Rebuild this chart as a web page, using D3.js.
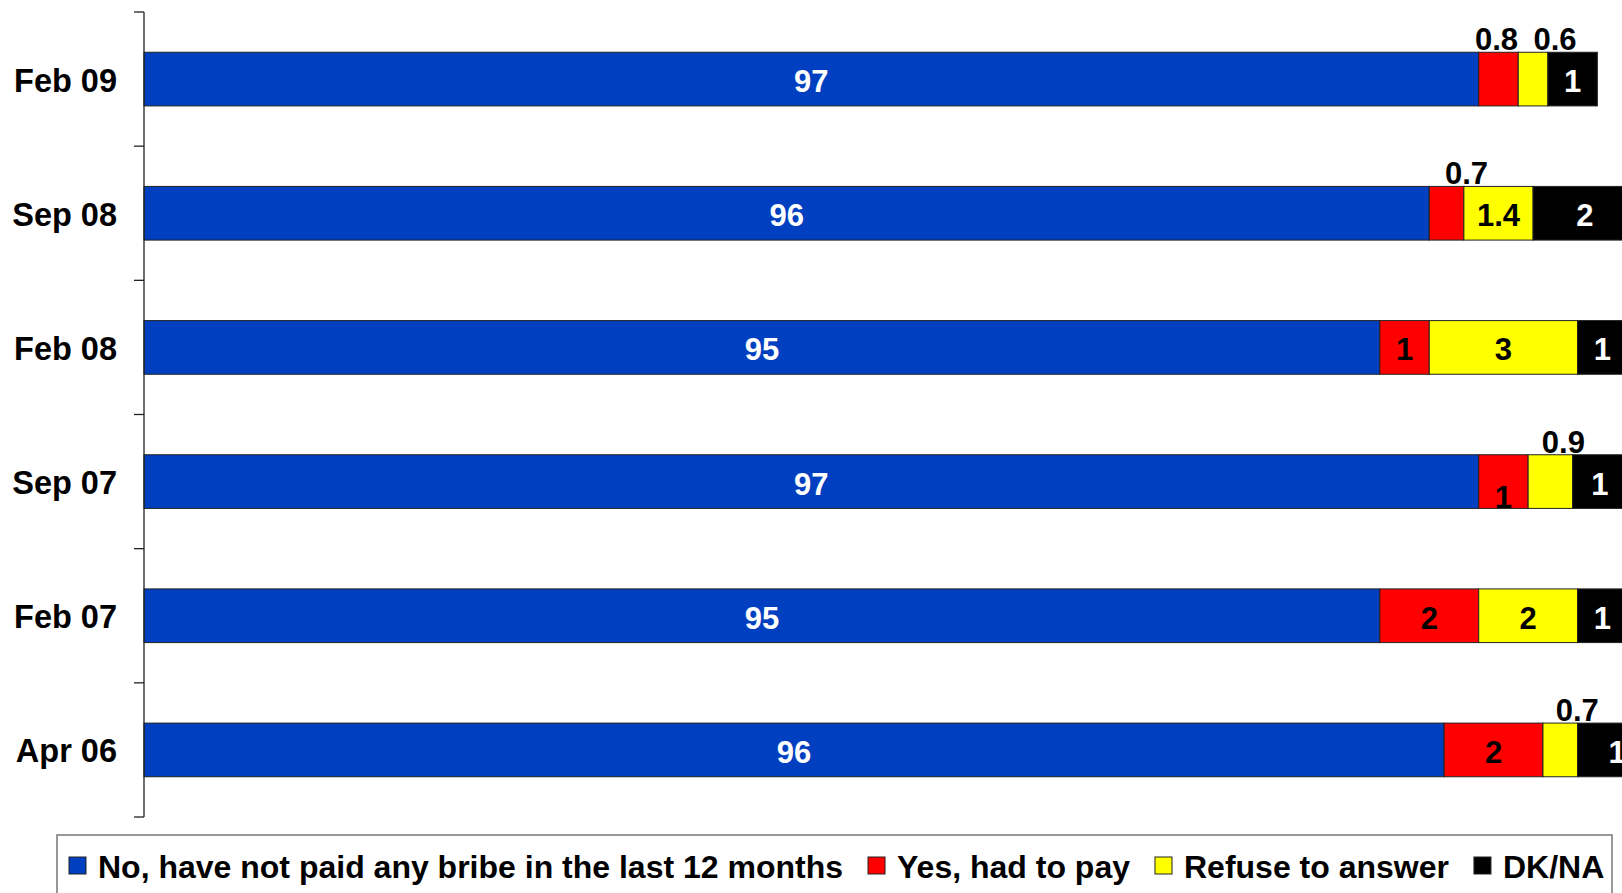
<!DOCTYPE html>
<html>
<head>
<meta charset="utf-8">
<script src="https://cdn.jsdelivr.net/npm/d3@7/dist/d3.min.js"></script>
<style>
  html, body { margin: 0; padding: 0; background: #fff; overflow: hidden; }
  svg { display: block; font-family: "Liberation Sans", Arial, sans-serif; font-weight: bold; }
</style>
</head>
<body>
<svg id="chart" width="1622" height="893"></svg>
<script>
// ---- Data ----
const categories = ["Feb 09", "Sep 08", "Feb 08", "Sep 07", "Feb 07", "Apr 06"];
const seriesNames = ["No, have not paid any bribe in the last 12 months", "Yes, had to pay", "Refuse to answer", "DK/NA"];
const noPaid  = [97, 96, 95, 97, 95, 96.3];
const yesPaid = [0.8, 0.7, 1, 1, 2, 2];
const refuse  = [0.6, 1.4, 3, 0.9, 2, 0.7];
const dkna    = [1, 2.1, 1, 1.1, 1, 1.6];
const noPaidLabels  = ["97", "96", "95", "97", "95", "96"];
const yesPaidLabels = ["0.8", "0.7", "1", "1", "2", "2"];
const refuseLabels  = ["0.6", "1.4", "3", "0.9", "2", "0.7"];
const dknaLabels    = ["1", "2", "1", "1", "1", "1"];
const xDomain = [70, 100];

// ---- Styles ----
const colors = ["#0040C0", "#FF0000", "#FFFF00", "#000000"];
const labelColors = ["#FFFFFF", "#000000", "#000000", "#FFFFFF"];

const seriesValues = [noPaid, yesPaid, refuse, dkna];
const seriesLabels = [noPaidLabels, yesPaidLabels, refuseLabels, dknaLabels];

// small label placement tweaks (as in the original) keyed "category|seriesIndex"
const labelNudge = {
  "Feb 09|1": {dx: -2, dy: 0},
  "Feb 09|2": {dx: 22, dy: 0},
  "Sep 08|1": {dx: 20, dy: 0},
  "Sep 07|2": {dx: 13, dy: 0},
  "Apr 06|2": {dx: 17, dy: 0},
  "Sep 07|1": {dx: 0, dy: 13}
};

const svg = d3.select("#chart");
const plotLeft = 144, plotRight = 1627, plotTop = 12, plotBottom = 817;

const x = d3.scaleLinear().domain(xDomain).range([plotLeft, plotRight]);
const y = d3.scaleBand().domain(categories).range([plotTop, plotBottom]).paddingInner(0.6).paddingOuter(0.3);
const yOuter = d3.scaleBand().domain(categories).range([plotTop, plotBottom]);

// Build stacked rows
const rows = categories.map((c, i) => {
  let acc = xDomain[0];
  return seriesValues.map((vals, s) => {
    const v = vals[i];
    let start, end;
    if (s === 0) { start = xDomain[0]; end = v; acc = v; }
    else { start = acc; end = acc + v; acc = end; }
    return {cat: c, s, v, x0: start, x1: end, label: seriesLabels[s][i]};
  });
}).flat();

// Bars
svg.append("g").selectAll("rect").data(rows).join("rect")
  .attr("x", d => x(d.x0))
  .attr("y", d => y(d.cat))
  .attr("width", d => x(d.x1) - x(d.x0))
  .attr("height", y.bandwidth())
  .attr("fill", d => colors[d.s])
  .attr("stroke", "#222")
  .attr("stroke-width", 1);

// Axis (left), ticks at category boundaries
const axisG = svg.append("g").attr("transform", `translate(${plotLeft},0)`);
axisG.append("line").attr("x1", 0).attr("x2", 0).attr("y1", plotTop).attr("y2", plotBottom)
  .attr("stroke", "#222").attr("stroke-width", 1.3);
const boundaries = categories.map(c => yOuter(c)).concat([plotBottom]);
axisG.selectAll("line.tick").data(boundaries).join("line").attr("class", "tick")
  .attr("x1", -10).attr("x2", 0).attr("y1", d => d).attr("y2", d => d)
  .attr("stroke", "#222").attr("stroke-width", 1.3);

// Category labels
svg.append("g").selectAll("text").data(categories).join("text")
  .attr("x", 117)
  .attr("y", d => y(d) + y.bandwidth() / 2 + 12.5)
  .attr("text-anchor", "end")
  .attr("font-size", 32.5)
  .attr("fill", "#000")
  .text(d => d);

// Value labels
svg.append("g").selectAll("text").data(rows).join("text")
  .attr("x", d => {
    const n = labelNudge[d.cat + "|" + d.s];
    return (x(d.x0) + x(d.x1)) / 2 + (n ? n.dx : 0);
  })
  .attr("y", d => {
    const n = labelNudge[d.cat + "|" + d.s];
    const dy = n ? n.dy : 0;
    if (d.v < 1) return y(d.cat) - 2 + dy;
    return y(d.cat) + y.bandwidth() / 2 + 13 + dy;
  })
  .attr("text-anchor", "middle")
  .attr("font-size", 31)
  .attr("fill", d => d.v < 1 ? "#000" : labelColors[d.s])
  .text(d => d.label);

// Legend
const legend = svg.append("g");
legend.append("rect").attr("x", 57).attr("y", 835).attr("width", 1555).attr("height", 120)
  .attr("fill", "#fff").attr("stroke", "#777").attr("stroke-width", 1.5);
let lx = 69;
seriesNames.forEach((name, s) => {
  legend.append("rect").attr("x", lx).attr("y", 857).attr("width", 17).attr("height", 17)
    .attr("fill", colors[s]).attr("stroke", "#222").attr("stroke-width", 1);
  const t = legend.append("text").attr("x", lx + 29).attr("y", 878)
    .attr("font-size", 32).attr("fill", "#000").text(name);
  const w = t.node().getComputedTextLength();
  lx = lx + 29 + w + 25;
});
</script>
</body>
</html>
